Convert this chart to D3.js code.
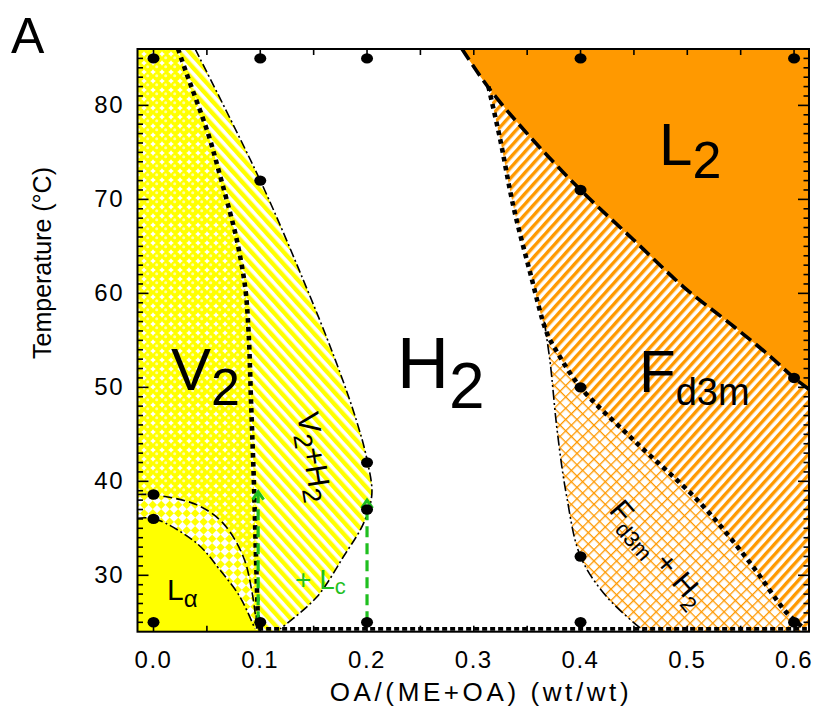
<!DOCTYPE html>
<html>
<head>
<meta charset="utf-8">
<script src="https://cdn.jsdelivr.net/npm/d3@7"></script>
<style>
  body { margin: 0; background: #fff; }
  svg { display: block; font-family: "Liberation Sans", Arial, sans-serif; }
</style>
</head>
<body>
<svg id="chart" width="814" height="715"></svg>
<script>
// Axis ticks
const xTickValues = [0.0, 0.1, 0.2, 0.3, 0.4, 0.5, 0.6];
const xMinorTicks = [0.05, 0.15, 0.25, 0.35, 0.45, 0.55];
const yTickValues = [30, 40, 50, 60, 70, 80];
const yMinorTicks = d3.range(25, 86);

// Measured samples (composition, temperature)
const sampleX = [0, 0.1, 0.2, 0.4, 0.6, 0.1, 0.4, 0.6, 0.4, 0.2, 0.2, 0, 0, 0.4, 0, 0.1, 0.2, 0.4, 0.6];
const sampleT = [85, 85, 85, 85, 85, 72, 71, 51, 50, 42, 37, 38.6, 36, 32, 25, 25, 25, 25, 25];

// Phase boundaries, [OA fraction, T]
const v2Boundary = [[0.023, 86], [0.030, 83.7], [0.0514, 76.9], [0.0624, 72.5], [0.0717, 68.6],
  [0.078, 65.7], [0.0858, 60.7], [0.089, 56], [0.0915, 48], [0.094, 40], [0.096, 32], [0.098, 24.3]];
const v2H2Outer = [[0.039, 86], [0.1, 72], [0.14, 61.5], [0.17, 53], [0.19, 46.5], [0.2, 42.3],
  [0.2045, 38.6], [0.1966, 35.5], [0.178, 32], [0.153, 27.7], [0.1186, 24.3]];
const lamellarUpper = [[-0.015, 38.6], [0, 38.56], [0.0406, 37.5], [0.0655, 35.5], [0.084, 32],
  [0.092, 28.4], [0.097, 24.3]];
const lamellarLower = [[-0.015, 36.07], [0.0015, 36.0], [0.0406, 33.4], [0.062, 30.6], [0.081, 27.7],
  [0.095, 24.3]];
const l2Boundary = [[0.289, 86], [0.3137, 81.9], [0.35, 77.0], [0.4, 71], [0.4496, 65.7],
  [0.4964, 60.7], [0.5432, 56.5], [0.5776, 53.3], [0.6, 51], [0.62, 49.3]];
const fd3mBoundary = [[0.3137, 82], [0.3247, 76.4], [0.337, 69.3], [0.3528, 62.2], [0.3684, 55.8],
  [0.3778, 53.8], [0.4, 50], [0.4496, 44.4], [0.512, 37.7], [0.559, 31.3], [0.5932, 26], [0.61, 24.3]];
const fd3mH2Outer = [[0.366, 57], [0.3716, 52.6], [0.378, 45.5], [0.387, 38.4], [0.4, 32],
  [0.4246, 27.7], [0.46, 24.0]];
const baseBoundary = [[0.098, 24.3], [0.612, 24.3]];

// Lc onset arrows
const lcArrowX = [0.098, 0.2];
const lcArrowTop = [38.9, 38.0];
const lcArrowBase = [25, 25];

const svg = d3.select("#chart");
const plot = { left: 137.5, right: 809, top: 49, bottom: 631.7 };

const x = d3.scaleLinear().domain([-0.015, 0.614]).range([plot.left, plot.right]);
const y = d3.scaleLinear().domain([24, 86]).range([plot.bottom, plot.top]);

const YELLOW = "#ffff00";
const ORANGE = "#ff9900";
const GREEN = "#1fbf1f";

// Fill patterns
const defs = svg.append("defs");

defs.append("clipPath").attr("id", "plotClip")
  .append("rect")
  .attr("x", plot.left).attr("y", plot.top)
  .attr("width", plot.right - plot.left).attr("height", plot.bottom - plot.top);

// V2: packed yellow beads
const beads = defs.append("pattern").attr("id", "beads")
  .attr("patternUnits", "userSpaceOnUse").attr("width", 9).attr("height", 9);
beads.append("rect").attr("width", 9).attr("height", 9).attr("fill", "#fff");
beads.append("circle").attr("cx", 4.5).attr("cy", 4.5).attr("r", 4.75).attr("fill", YELLOW);
beads.append("circle").attr("cx", 3.7).attr("cy", 3.7).attr("r", 1.5).attr("fill", "#ffffa8");

// V2 + H2: yellow stripes
const yStripes = defs.append("pattern").attr("id", "yStripes")
  .attr("patternUnits", "userSpaceOnUse").attr("width", 8).attr("height", 8)
  .attr("patternTransform", "rotate(-42)");
yStripes.append("rect").attr("width", 8).attr("height", 8).attr("fill", "#fff");
yStripes.append("rect").attr("width", 4.4).attr("height", 8).attr("fill", YELLOW);

// La + V2: checkerboard
const checker = defs.append("pattern").attr("id", "checker")
  .attr("patternUnits", "userSpaceOnUse").attr("width", 12).attr("height", 12)
  .attr("patternTransform", "rotate(45)");
checker.append("rect").attr("width", 12).attr("height", 12).attr("fill", "#fff");
checker.append("rect").attr("width", 6).attr("height", 6).attr("fill", YELLOW);
checker.append("rect").attr("x", 6).attr("y", 6).attr("width", 6).attr("height", 6).attr("fill", YELLOW);

// Fd3m: orange stripes
const oStripes = defs.append("pattern").attr("id", "oStripes")
  .attr("patternUnits", "userSpaceOnUse").attr("width", 7).attr("height", 7)
  .attr("patternTransform", "rotate(42)");
oStripes.append("rect").attr("width", 7).attr("height", 7).attr("fill", "#fff");
oStripes.append("rect").attr("width", 3.4).attr("height", 7).attr("fill", ORANGE);

// Fd3m + H2: orange cross-hatch
const hatch = defs.append("pattern").attr("id", "hatch")
  .attr("patternUnits", "userSpaceOnUse").attr("width", 8).attr("height", 8)
  .attr("patternTransform", "rotate(45)");
hatch.append("rect").attr("width", 8).attr("height", 8).attr("fill", "#fff");
hatch.append("rect").attr("width", 1.3).attr("height", 8).attr("fill", ORANGE);
hatch.append("rect").attr("width", 8).attr("height", 1.3).attr("fill", ORANGE);

// Open chevron arrow head, pointing along the line direction
defs.append("marker").attr("id", "arrowGreen")
  .attr("viewBox", "0 0 14 14").attr("refX", 11).attr("refY", 7)
  .attr("markerWidth", 14).attr("markerHeight", 14).attr("markerUnits", "userSpaceOnUse")
  .attr("orient", "auto")
  .append("path").attr("d", "M3,1.5 L11,7 L3,12.5").attr("fill", "none")
  .attr("stroke", GREEN).attr("stroke-width", 3).attr("stroke-linejoin", "miter");

const curve = d3.line().x(d => x(d[0])).y(d => y(d[1])).curve(d3.curveCatmullRom.alpha(0.5));
const straight = d3.line().x(d => x(d[0])).y(d => y(d[1]));
const cont = pts => curve(pts).replace(/^M/, "L");
const pt = (a, b) => `L${x(a)},${y(b)}`;
const rev = pts => pts.slice().reverse();

const fills = svg.append("g").attr("clip-path", "url(#plotClip)");

// V2 (beads)
fills.append("path")
  .attr("d", `M${x(-0.02)},${y(87)}` + pt(0.023, 87) + cont(v2Boundary) + pt(0.098, 23.5) + pt(-0.02, 23.5) + "Z")
  .attr("fill", "url(#beads)");

// V2 + H2 (yellow stripes)
fills.append("path")
  .attr("d", curve(v2Boundary) + pt(0.098, 23.5) + pt(0.1186, 23.5) + cont(rev(v2H2Outer)) + pt(0.039, 87) + pt(0.023, 87) + "Z")
  .attr("fill", "url(#yStripes)");

// La + V2 (checker)
fills.append("path")
  .attr("d", curve(lamellarUpper) + pt(0.097, 23.5) + pt(-0.02, 23.5) + pt(-0.02, 38.6) + "Z")
  .attr("fill", "url(#checker)");

// La (solid)
fills.append("path")
  .attr("d", curve(lamellarLower) + pt(0.095, 23.5) + pt(-0.02, 23.5) + pt(-0.02, 36.07) + "Z")
  .attr("fill", YELLOW);

// Fd3m + H2 (cross-hatch)
fills.append("path")
  .attr("d", curve(fd3mH2Outer) + pt(0.46, 23.5) + pt(0.62, 23.5) + pt(0.62, 57) + "Z")
  .attr("fill", "url(#hatch)");

// Fd3m (orange stripes)
fills.append("path")
  .attr("d", curve(fd3mBoundary) + pt(0.61, 23.5) + pt(0.62, 23.5) + pt(0.62, 49.3) + "Z")
  .attr("fill", "url(#oStripes)");

// L2 (solid)
fills.append("path")
  .attr("d", curve(l2Boundary) + pt(0.62, 87) + pt(0.289, 87) + "Z")
  .attr("fill", ORANGE);

// Boundary lines
const lines = svg.append("g").attr("clip-path", "url(#plotClip)").attr("fill", "none").attr("stroke", "#000");
lines.append("path").attr("d", curve(v2Boundary)).attr("stroke-width", 4.6).attr("stroke-dasharray", "4.6,4.4");
lines.append("path").attr("d", curve(fd3mBoundary)).attr("stroke-width", 4.6).attr("stroke-dasharray", "4.6,4.4");
lines.append("path").attr("d", straight(baseBoundary)).attr("stroke-width", 3.6).attr("stroke-dasharray", "5,3");
lines.append("path").attr("d", curve(l2Boundary)).attr("stroke-width", 3.6).attr("stroke-dasharray", "13,6");
lines.append("path").attr("d", curve(v2H2Outer)).attr("stroke-width", 1.6).attr("stroke-dasharray", "9,3,2,3");
lines.append("path").attr("d", curve(lamellarUpper)).attr("stroke-width", 1.6).attr("stroke-dasharray", "9,4");
lines.append("path").attr("d", curve(lamellarLower)).attr("stroke-width", 1.6).attr("stroke-dasharray", "9,3,2,3");
lines.append("path").attr("d", curve(fd3mH2Outer)).attr("stroke-width", 1.6).attr("stroke-dasharray", "10,3,2,3,2,3");

// Lc arrows
const arrows = svg.append("g");
lcArrowX.forEach((xv, i) => {
  arrows.append("line")
    .attr("x1", x(xv)).attr("x2", x(xv))
    .attr("y1", y(lcArrowBase[i])).attr("y2", y(lcArrowTop[i]))
    .attr("stroke", GREEN).attr("stroke-width", 3.2)
    .attr("stroke-dasharray", "11,6")
    .attr("marker-end", "url(#arrowGreen)");
});

// Frame and ticks
const axes = svg.append("g").attr("stroke", "#000");
const tickLine = (x1, y1, x2, y2, w) => axes.append("line")
  .attr("x1", x1).attr("y1", y1).attr("x2", x2).attr("y2", y2).attr("stroke-width", w);

xTickValues.concat(xMinorTicks).forEach(v => {
  tickLine(x(v), plot.bottom, x(v), plot.bottom - 6, 1.6);
  tickLine(x(v), plot.top, x(v), plot.top + 6, 1.6);
});
yMinorTicks.forEach(v => {
  const len = yTickValues.includes(v) ? 11 : 5.5;
  tickLine(plot.left, y(v), plot.left + len, y(v), 1.6);
  tickLine(plot.right, y(v), plot.right - len, y(v), 1.6);
});
axes.append("rect")
  .attr("x", plot.left).attr("y", plot.top)
  .attr("width", plot.right - plot.left).attr("height", plot.bottom - plot.top)
  .attr("fill", "none").attr("stroke-width", 2);

// Sample points
svg.append("g").selectAll("ellipse")
  .data(sampleX.map((v, i) => [v, sampleT[i]]))
  .join("ellipse")
  .attr("cx", d => x(d[0])).attr("cy", d => y(d[1]))
  .attr("rx", 6).attr("ry", 5.2).attr("fill", "#000");

// Tick labels
const labels = svg.append("g").attr("fill", "#000");
labels.selectAll(".xl").data(xTickValues).join("text")
  .attr("x", d => x(d)).attr("y", 668)
  .attr("text-anchor", "middle").attr("font-size", 24).attr("letter-spacing", 1.5)
  .text(d => d3.format(".1f")(d));
labels.selectAll(".yl").data(yTickValues).join("text")
  .attr("x", 124).attr("y", d => y(d) + 8)
  .attr("text-anchor", "end").attr("font-size", 24).attr("letter-spacing", 1.5)
  .text(d => d);

// Axis titles
labels.append("text")
  .attr("x", 481).attr("y", 701).attr("text-anchor", "middle")
  .attr("font-size", 26).attr("letter-spacing", 3.6)
  .text("OA/(ME+OA) (wt/wt)");
labels.append("text")
  .attr("transform", "translate(51,263) rotate(-90)").attr("text-anchor", "middle")
  .attr("font-size", 25)
  .text("Temperature (°C)");
labels.append("text")
  .attr("x", 11).attr("y", 53).attr("font-size", 50)
  .text("A");

// Phase labels
function phaseLabel(px, py, main, sub, size, subSize, subDy, opts = {}) {
  const t = labels.append("text").attr("x", px).attr("y", py)
    .attr("font-size", size).attr("fill", opts.fill || "#000");
  if (opts.transform) t.attr("transform", opts.transform).attr("x", 0).attr("y", 0);
  main.forEach((m, i) => {
    t.append("tspan").attr("font-size", size).attr("dy", i === 0 ? 0 : -subDy).text(m);
    if (sub[i]) t.append("tspan").attr("font-size", subSize).attr("dy", subDy).text(sub[i]);
  });
  return t;
}

phaseLabel(171, 390, ["V"], ["2"], 60, 52, 15);
phaseLabel(397, 388, ["H"], ["2"], 72, 64, 20);
phaseLabel(659, 165, ["L"], ["2"], 60, 52, 13);
phaseLabel(639, 392, ["F"], ["d3m"], 60, 38, 13);
phaseLabel(167, 600, ["L"], ["α"], 30, 24, 7);
phaseLabel(0, 0, ["V", "+H"], ["2", "2"], 31, 26, 7,
  { transform: "translate(297,414) rotate(81)" });
phaseLabel(0, 0, ["F", " + H"], ["d3m", "2"], 30, 22, 8,
  { transform: "translate(608,511) rotate(49)" });
phaseLabel(295, 589, ["+ L"], ["c"], 28, 22, 5, { fill: GREEN });
</script>
</body>
</html>
